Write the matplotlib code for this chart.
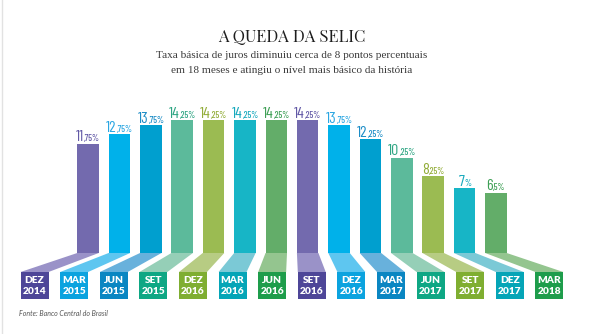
import numpy as np
import matplotlib
matplotlib.use("Agg")
import matplotlib.pyplot as plt
from matplotlib import font_manager as fm
from matplotlib.offsetbox import TextArea, HPacker, AnnotationBbox
from matplotlib.lines import Line2D

# ---------------------------------------------------------------------------
# Data
# ---------------------------------------------------------------------------
months = ["DEZ", "MAR", "JUN", "SET", "DEZ", "MAR", "JUN",
          "SET", "DEZ", "MAR", "JUN", "SET", "DEZ", "MAR"]
years = ["2014", "2015", "2015", "2015", "2016", "2016", "2016",
         "2016", "2016", "2017", "2017", "2017", "2017", "2018"]
rates = [11.75, 12.75, 13.75, 14.25, 14.25, 14.25, 14.25,
         14.25, 13.75, 12.25, 10.25, 8.25, 7.0, 6.5]

title = "A QUEDA DA SELIC"
subtitle = ["Taxa básica de juros diminuiu cerca de 8 pontos percentuais",
            "em 18 meses e atingiu o nível mais básico da história"]
source = "Fonte: Banco Central do Brasil"

# palettes (cycle of 7)
bar_colors = ["#736aae", "#00b1ea", "#009fcf", "#5cba9b", "#9bbb52", "#17b5c6", "#63ad69"]
link_colors = ["#9a92c8", "#5ec6f0", "#68b1dc", "#95cfb7", "#b7cc83", "#7bc9d6", "#94c58f"]
box_colors = ["#4e4698", "#0ba3df", "#0a86c2", "#0ea784", "#7fae31", "#05a5b7", "#1e9d4b"]
label_colors = ["#6259a6", "#2aa6e2", "#1b8cc6", "#2ea583", "#93ad3a", "#17a9bd", "#3e9f55"]

# pick first installed family
installed = {f.name for f in fm.fontManager.ttflist}
def pick(*names):
    for nm in names:
        if nm in installed:
            return nm
    return "DejaVu Sans"

narrow = pick("Barlow Condensed", "Liberation Sans Narrow")
serif_title = pick("Playfair Display", "Bodoni Moda", "Liberation Serif")
serif_sub = pick("Liberation Serif")
sans = pick("Lato", "DejaVu Sans")

# ---------------------------------------------------------------------------
# Layout (one axes over the whole figure, 1 x-unit = one bar step)
# ---------------------------------------------------------------------------
px_x = 31.38          # pixels per x unit
px_y = 9.3            # pixels per percentage point
x0_px, base_px = 88, 253
W, H = 600, 334

fig = plt.figure(figsize=(6, 3.34), dpi=100)
ax = fig.add_axes([0, 0, 1, 1])
ax.set_xlim(-x0_px / px_x, (W - x0_px) / px_x)
ax.set_ylim(-(H - base_px) / px_y, base_px / px_y)
ax.axis("off")

n = len(rates)
x = np.arange(n)
mid = (n - 1) / 2
box_x = mid + (x - mid) * 1.262
bar_w = 0.685
box_w = 0.89
link_bot = -19 / px_y
box_bot = -46 / px_y

cols = [bar_colors[i % 7] for i in range(n)]
ax.bar(x, rates, width=bar_w, color=cols, zorder=2)

# connectors from the bar foot to the label box
for i in range(n):
    xs = [x[i] - bar_w / 2, x[i] + bar_w / 2, box_x[i] + box_w / 2, box_x[i] - box_w / 2]
    ys = [0, 0, link_bot, link_bot]
    ax.fill(xs, ys, color=link_colors[i % 7], lw=0, zorder=1)

ax.bar(box_x, link_bot - box_bot, bottom=box_bot, width=box_w,
       color=[box_colors[i % 7] for i in range(n)], zorder=2)

for i in range(n):
    ax.text(box_x[i], -27.5 / px_y, months[i], ha="center", va="center",
            color="white", fontsize=7.3, fontweight="heavy", family=sans, zorder=3)
    ax.text(box_x[i], -39 / px_y, years[i], ha="center", va="center",
            color="white", fontsize=7.3, fontweight="heavy", family=sans, zorder=3)

# value labels: big integer part + small decimals
for i, v in enumerate(rates):
    whole = str(int(v))
    dec = f"{v:.2f}".split(".")[1].rstrip("0")
    tail = ("," + dec + "%") if dec else "%"
    c = label_colors[i % 7]
    pack = HPacker(children=[
        TextArea(whole, textprops=dict(fontsize=11.5, color=c, family=narrow)),
        TextArea(tail, textprops=dict(fontsize=6.5, color=c, family=narrow,
                                      fontweight="medium")),
    ], align="baseline", pad=0, sep=0)
    ab = AnnotationBbox(pack, (x[i], v), xybox=(0, -0.5), xycoords="data",
                        boxcoords="offset points", box_alignment=(0.5, 0),
                        frameon=False, pad=0)
    ax.add_artist(ab)

# titles
ax.text(mid, (base_px - 42) / px_y, title, ha="center", va="baseline",
        fontsize=12, family=serif_title, color="#1e1e1e")
ax.text(mid, (base_px - 57.5) / px_y, subtitle[0], ha="center", va="baseline",
        fontsize=8.1, family=serif_sub, color="#3a3a3a")
ax.text(mid, (base_px - 72.7) / px_y, subtitle[1], ha="center", va="baseline",
        fontsize=8.1, family=serif_sub, color="#3a3a3a")

ax.text(-(x0_px - 19) / px_x, -(313 - base_px) / px_y, source, ha="left", va="center",
        fontsize=5, style="italic", family=sans, color="#555555")

fig.add_artist(Line2D([1.5 / W, 1.5 / W], [0, 1], color="#e2e2e2", lw=1))

fig.savefig("out.png", dpi=100)
